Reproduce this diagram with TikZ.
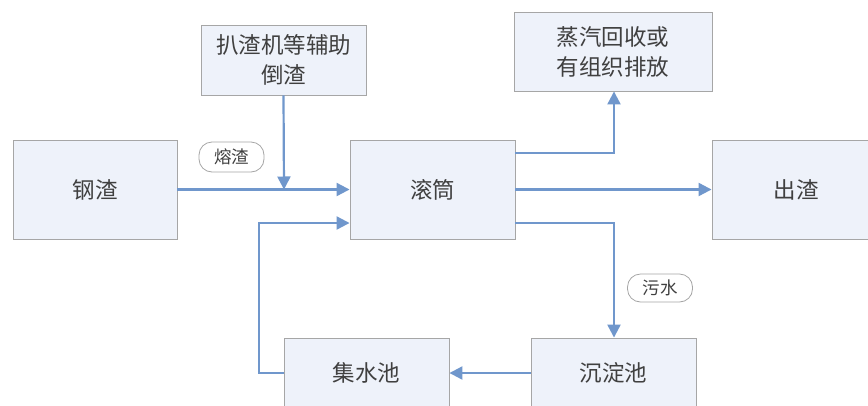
\documentclass[tikz,border=0pt]{standalone}
\usepackage{fontspec}
\newfontfamily\cjk{Noto Sans CJK SC}
\usetikzlibrary{arrows.meta,calc}
\definecolor{boxfill}{HTML}{EEF2FA}
\definecolor{boxline}{HTML}{A6A6A6}
\definecolor{flow}{HTML}{7097CC}
\definecolor{txt}{HTML}{404040}
\tikzset{
  x=1pt,y=-1pt,
  box/.style={draw=boxline,fill=boxfill,line width=0.9pt,text=txt,font=\cjk\fontsize{22.5}{30}\selectfont,align=center,inner sep=0pt},
  pill/.style={draw=boxline,fill=white,rounded corners=13pt,line width=0.8pt,text=txt,font=\cjk\fontsize{17.5}{20}\selectfont,inner sep=0pt},
  flowline/.style={draw=flow,line width=2.2pt},
  flowarrow/.style={flowline,-{Triangle[length=13pt,width=13pt]}}
}
\begin{document}
\begin{tikzpicture}
\useasboundingbox (0,0) rectangle (868,405);
\clip (0,0) rectangle (868,405);
\fill[white] (0,0) rectangle (868,405);
\node[box,minimum width=164pt,minimum height=99pt] (gz) at (95,189.5) {钢渣};
\node[box,minimum width=165pt,minimum height=70pt] (pz) at (283.5,60) {扒渣机等辅助\\倒渣};
\node[box,minimum width=165pt,minimum height=99pt] (gt) at (432.5,189.5) {滚筒};
\node[box,minimum width=198pt,minimum height=79pt] (zq) at (613,51.5) {蒸汽回收或\\有组织排放};
\node[box,minimum width=168pt,minimum height=99pt] (cz) at (796,189.5) {出渣};
\node[box,minimum width=165pt,minimum height=70pt] (js) at (366.5,373) {集水池};
\node[box,minimum width=165pt,minimum height=70pt] (cd) at (613.5,373) {沉淀池};
\node[pill,minimum width=65pt,minimum height=30pt] (rz) at (231.5,157) {熔渣};
\node[pill,minimum width=65pt,minimum height=28pt] (ws) at (660,288) {污水};
\coordinate (m1) at (284,189.5);
\coordinate (c1) at (259,373);
\coordinate (c2) at (259,223);
\coordinate (c3) at (614,153);
\coordinate (c4) at (614,223);
\draw[flowarrow] (gz.east) -- (gt.west);
\draw[flowarrow] (pz.south) -- (m1);
\draw[flowarrow] (js.west) -- (c1) -- (c2) -- (c2 -| gt.west);
\draw[flowarrow] (c3 -| gt.east) -- (c3) -- (zq.south -| c3);
\draw[flowarrow] (gt.east) -- (cz.west);
\draw[flowarrow] (c4 -| gt.east) -- (c4) -- (cd.north -| c4);
\draw[flowarrow] (cd.west) -- (js.east);
\end{tikzpicture}
\end{document}
